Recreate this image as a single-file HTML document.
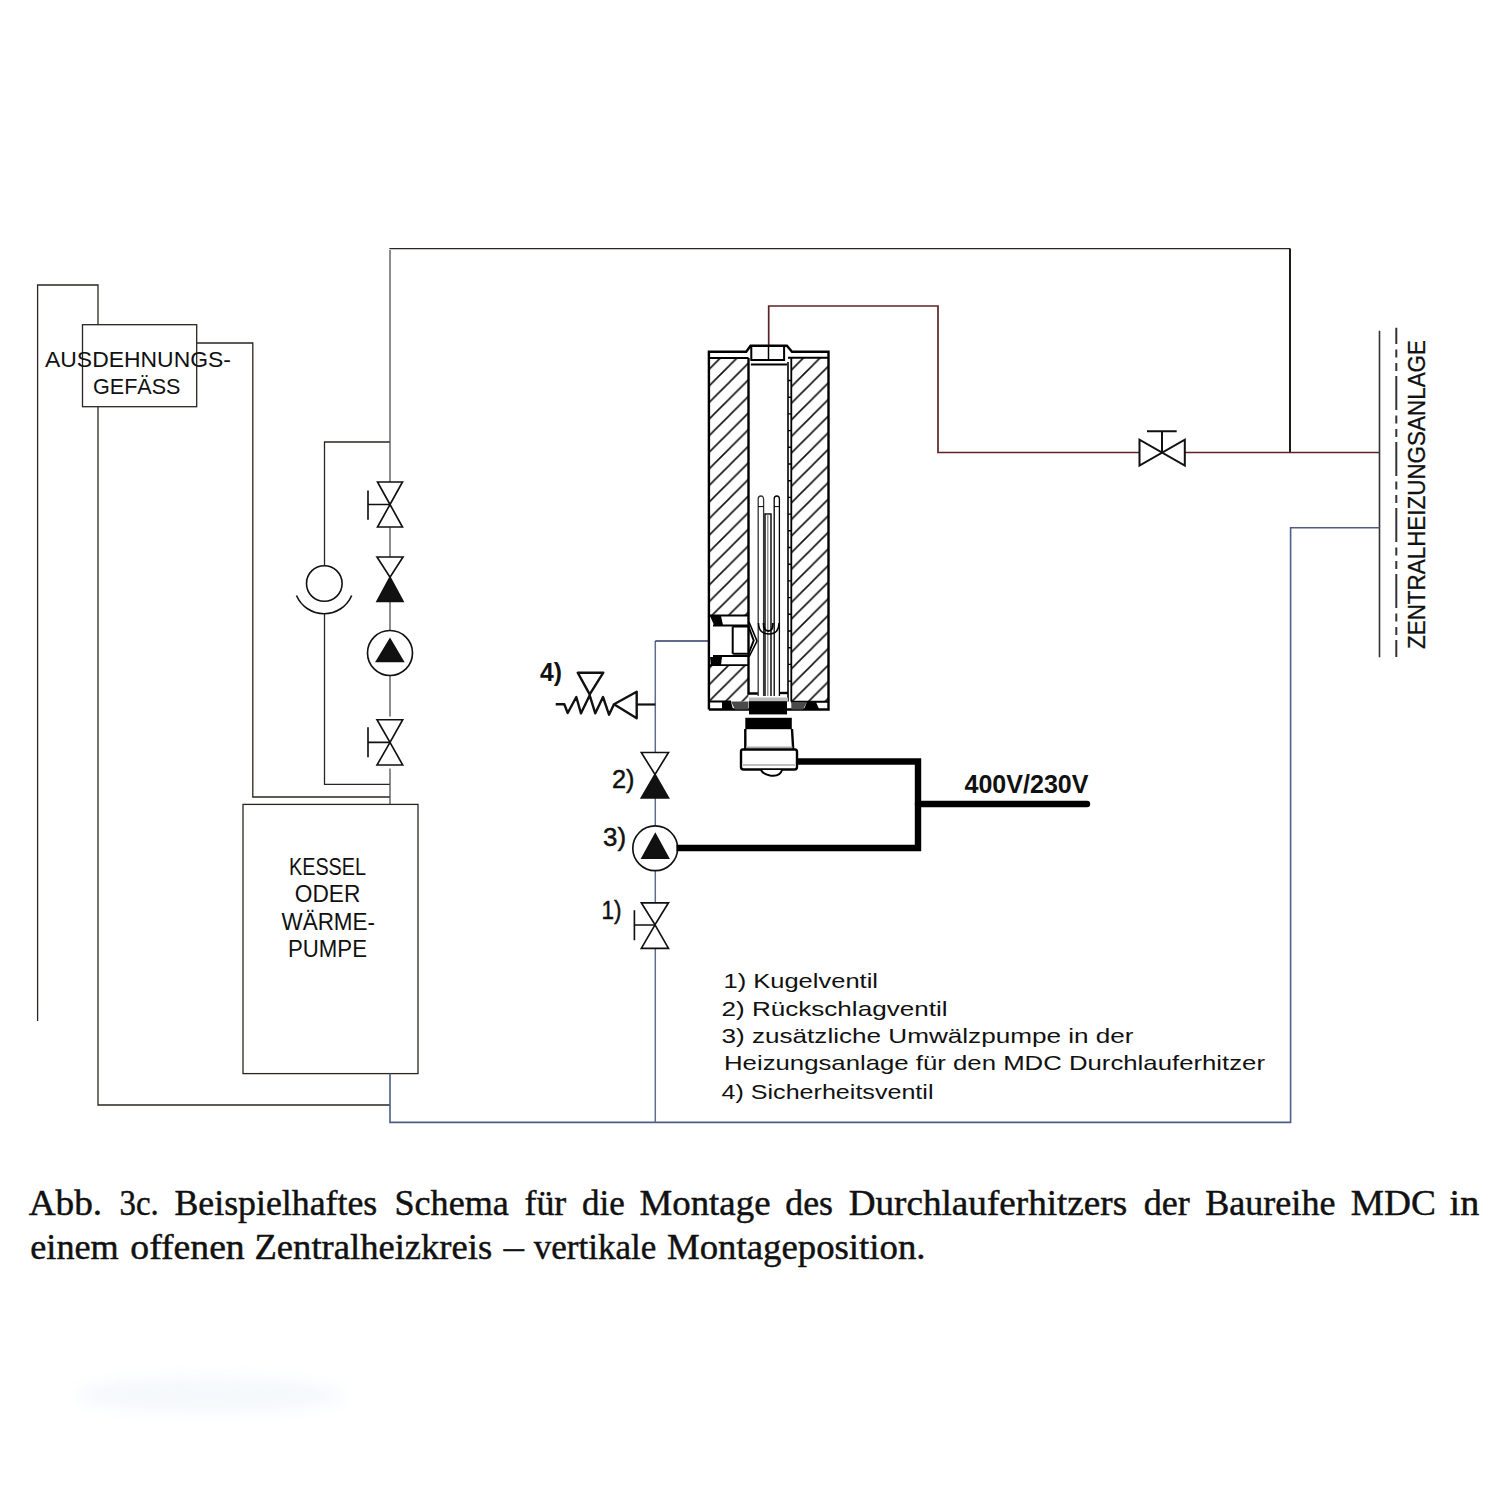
<!DOCTYPE html>
<html>
<head>
<meta charset="utf-8">
<style>
html,body{margin:0;padding:0;background:#fff;}
svg{display:block;}
.s{font-family:"Liberation Sans",sans-serif;}
.r{font-family:"Liberation Serif",serif;}
</style>
</head>
<body>
<svg width="1500" height="1500" viewBox="0 0 1500 1500">
<defs>
<pattern id="hatch" patternUnits="userSpaceOnUse" width="16.6" height="16.6" patternTransform="translate(-0.6,0)">
<path d="M-4,4 L4,-4 M0,16.6 L16.6,0 M12.6,20.6 L20.6,12.6" stroke="#111" stroke-width="1.6" fill="none"/>
</pattern>
<filter id="blur" x="-50%" y="-50%" width="200%" height="200%"><feGaussianBlur stdDeviation="8"/></filter>
</defs>
<rect width="1500" height="1500" fill="#fff"/>
<ellipse cx="210" cy="1395" rx="135" ry="18" fill="#eef4fa" opacity="0.6" filter="url(#blur)"/>

<!-- ===== left expansion system ===== -->
<g fill="none" stroke="#2a2522" stroke-width="1.3">
<path d="M37.6,1021 V285 H98 V324.7"/>
<rect x="82.5" y="324.7" width="114.2" height="82"/>
<path d="M98,406.7 V1105 H390"/>
<path d="M196.7,343 H252.8 V797 H390"/>
<path d="M390,442 H324.5 V565.5"/>
<circle cx="324.3" cy="583.5" r="17.8" stroke="#111" stroke-width="1.6"/>
<path d="M296.5,595.5 A30,30 0 0 0 351.7,595.5" stroke="#111" stroke-width="1.6"/>
<path d="M324.5,614 V784.4 H390"/>
<!-- main vertical -->
<path d="M390,804.4 V768.5 M390,716.5 V675.5 M390,630.5 V601.3 M390,557 V527.2 M390,481.9 V250" stroke="#505050" stroke-width="1.3"/>
<path d="M389.4,248.6 H1290"/>
<path d="M1290,248.6 V452.5" stroke="#1e1a16" stroke-width="2"/>
<rect x="243" y="804.4" width="175" height="269.2"/>
</g>

<!-- valves left column -->
<g fill="none" stroke="#111" stroke-width="1.65" stroke-linejoin="miter">
<!-- gate valve 1 -->
<path d="M377.5,482 H402.5 L390,504.5 Z M377.5,527 H402.5 L390,504.5 Z"/>
<path d="M368,490.5 V519.7 M368,504.5 H390"/>
<!-- check valve -->
<path d="M377,557 H403 L390,577.3 Z"/>
<path d="M377,601.3 H403 L390,577.3 Z" fill="#111"/>
<!-- pump -->
<circle cx="390" cy="653" r="22.5"/>
<path d="M376.5,661.4 H403.2 L390,639.2 Z" fill="#111"/>
<!-- gate valve 3 -->
<path d="M377,719.7 H402.7 L390,742.4 Z M377,765 H402.7 L390,742.4 Z"/>
<path d="M368,727.3 V757.3 M368,742.4 H390"/>
</g>

<!-- ===== red supply ===== -->
<g fill="none" stroke="#5c2428" stroke-width="1.7">
<path d="M768.7,345.7 V306 H938 V452.5 H1139.5"/>
<path d="M1184.8,452.5 H1379.5"/>
</g>
<g fill="none" stroke="#111" stroke-width="2">
<path d="M1139.5,439.7 V465.5 L1184.8,439.7 V465.5 Z"/>
<path d="M1162,452 V431.3 M1147,431.3 H1176.7"/>
</g>

<!-- ===== right heating system marker ===== -->
<g fill="none" stroke="#333" stroke-width="1.6">
<path d="M1379.5,330.7 V657.3"/>
<path d="M1396.3,327.8 V657" stroke-dasharray="34 5.5 8 5.5 8 5" stroke-dashoffset="17.8" stroke-width="2"/>
</g>
<text class="s" transform="translate(1425,649) rotate(-90)" font-size="24.5" fill="#111" stroke="#111" stroke-width="0.3" textLength="309" lengthAdjust="spacingAndGlyphs">ZENTRALHEIZUNGSANLAGE</text>

<!-- ===== blue return ===== -->
<g fill="none" stroke="#4d5d85" stroke-width="1.6">
<path d="M1379.5,527.7 H1290.6 V1122.4 H390 V1073.6"/>
<path d="M655.3,1122.4 V948.3 M655.3,902.8 V870.8 M655.3,825.8 V798 M655.3,752.5 V641" stroke="#5d6c8e" stroke-width="1.5"/>
<path d="M655.3,641 H708.7" stroke="#2c3a6a" stroke-width="1.7"/>
</g>
<path d="M655.3,704.5 H636.7" stroke="#111" stroke-width="2.2" fill="none"/>

<!-- valves right column -->
<g fill="none" stroke="#111" stroke-width="1.65">
<path d="M641.3,752.5 H668.5 L655,774.5 Z"/>
<path d="M641.3,798 H668.5 L655,774.5 Z" fill="#111"/>
<circle cx="655.2" cy="848.3" r="22.4"/>
<path d="M642,858.1 H668.5 L655.3,833.9 Z" fill="#111"/>
<path d="M641.3,902.8 H668.5 L655,924.8 Z M641.3,948.3 H668.5 L655,924.8 Z"/>
<path d="M634.4,910.2 V940.2 M634.4,925 H655"/>
</g>
<!-- safety valve -->
<g fill="none" stroke="#111" stroke-width="2.4" stroke-linejoin="round">
<path d="M636.7,691.7 V718.3 L614,704.3 Z"/>
<path d="M555.7,704.3 H564.3 L567.7,713 L576.3,697 L581,713.3 L589.7,695.3 L595.3,713.3 L603,697 L609,714.7 L614,704.3"/>
<path d="M577.7,672.7 H603.3 L589.7,694.3 Z"/>
</g>

<!-- ===== cable ===== -->
<g fill="none" stroke="#000" stroke-width="6.4">
<path d="M797,761.5 H918 V848 H676.5" stroke-linejoin="miter"/>
<path d="M918,804 H1087" stroke-linecap="round"/>
</g>

<!-- ===== texts ===== -->
<g class="s" fill="#111">
<text x="45" y="366.5" font-size="22" textLength="186" lengthAdjust="spacingAndGlyphs">AUSDEHNUNGS-</text>
<text x="93" y="394" font-size="22" textLength="87.5" lengthAdjust="spacingAndGlyphs">GEFÄSS</text>
<text x="289" y="875" font-size="23" textLength="77" lengthAdjust="spacingAndGlyphs">KESSEL</text>
<text x="294.8" y="902" font-size="23" textLength="65.5" lengthAdjust="spacingAndGlyphs">ODER</text>
<text x="281.5" y="929.5" font-size="23" textLength="93.5" lengthAdjust="spacingAndGlyphs">WÄRME-</text>
<text x="288" y="957" font-size="23" textLength="79" lengthAdjust="spacingAndGlyphs">PUMPE</text>
<text x="964.5" y="793" font-size="25" font-weight="bold" textLength="124" lengthAdjust="spacingAndGlyphs">400V/230V</text>
<text x="540" y="681" font-size="26" font-weight="bold" textLength="22" lengthAdjust="spacingAndGlyphs">4)</text>
<text x="612" y="788" font-size="25" textLength="22.5" lengthAdjust="spacingAndGlyphs" stroke="#111" stroke-width="0.45">2)</text>
<text x="603" y="846" font-size="25" textLength="23" lengthAdjust="spacingAndGlyphs" stroke="#111" stroke-width="0.45">3)</text>
<text x="601.5" y="919" font-size="25" textLength="20" lengthAdjust="spacingAndGlyphs" stroke="#111" stroke-width="0.45">1)</text>
<text x="723.5" y="988" font-size="21" textLength="154.5" lengthAdjust="spacingAndGlyphs">1) Kugelventil</text>
<text x="721.5" y="1016" font-size="21" textLength="226" lengthAdjust="spacingAndGlyphs">2) Rückschlagventil</text>
<text x="721.5" y="1043" font-size="21" textLength="412" lengthAdjust="spacingAndGlyphs">3) zusätzliche Umwälzpumpe in der</text>
<text x="724" y="1070" font-size="21" textLength="541" lengthAdjust="spacingAndGlyphs">Heizungsanlage für den MDC Durchlauferhitzer</text>
<text x="721.5" y="1099" font-size="21" textLength="212" lengthAdjust="spacingAndGlyphs">4) Sicherheitsventil</text>
</g>


<!-- ===== heater ===== -->
<g id="heater">
<rect x="709" y="352" width="119.5" height="357" fill="#fff"/>
<rect x="709" y="358" width="39.5" height="257.5" fill="url(#hatch)"/>
<rect x="709" y="665.5" width="39.5" height="36" fill="url(#hatch)"/>
<rect x="791" y="358" width="37.5" height="343.5" fill="url(#hatch)"/>
<g fill="none" stroke="#000" stroke-width="2.4">
<path d="M708.9,709.5 V351.8 H746.2 L750.6,345.8 H786.9 L792,351.8 H828.5 V709.5 H708.9"/>
<path d="M709,358.1 H748.5 M788,357.8 H828.5" stroke-width="2"/>
<path d="M709,701.5 H731 M791,701.8 H828.5" stroke-width="2"/>
<path d="M748.5,358 V693.5 H758" />
<path d="M779,693 H788"/>
<path d="M751.3,346 V360 H784.1 V346" stroke-width="2"/>
<path d="M750.9,364.5 H787" stroke-width="2.2"/>
<path d="M788,362 V701.5" stroke-width="1.6"/>
<path d="M791.3,358 V701.5" stroke-width="1.8"/>
<path d="M768.5,346 V360" stroke-width="1.5"/>
<!-- inlet -->
<path d="M709,615.5 H748.5 M713,625.5 H748.5 M713,656 H748.5 M709,665.2 H748.5" stroke-width="1.8"/>
<path d="M732.7,626.5 V653.8 M732.7,626.5 H748.5 L753.7,640.5 L748.5,653.8 H732.7" stroke-width="2"/>
<path d="M749,622 L757,641 L749,657" stroke-width="1.6"/>
</g>
<path d="M710,616 H721 L723,625 H714 Z M710,657 H722 L721,665 L711,666 Z" fill="#000"/>
<!-- bore ticks -->
<g stroke="#000" stroke-width="1.4">
<path d="M788,380.5 H791.3 M788,397.2 H791.3 M788,413.9 H791.3 M788,430.6 H791.3 M788,447.3 H791.3 M788,464 H791.3 M788,480.7 H791.3 M788,497.4 H791.3 M788,514.1 H791.3 M788,530.8 H791.3 M788,547.5 H791.3 M788,564.2 H791.3 M788,580.9 H791.3 M788,597.6 H791.3 M788,614.3 H791.3 M788,631 H791.3 M788,647.7 H791.3 M788,664.4 H791.3 M788,681.1 H791.3"/>
</g>
<!-- rods -->
<g fill="none" stroke="#000" stroke-width="1.3">
<path d="M758.2,696 V499 Q758.2,496 761,496 Q763.6,496 763.6,499 V696" stroke="#333"/>
<path d="M774.2,696 V499 Q774.2,496 776.8,496 Q779.4,496 779.4,499 V696"/>
<path d="M758.2,506.6 H763.6 M774.2,506.6 H779.4" stroke-width="1"/>
<path d="M765,696 V514 H771 V696" stroke="#111" stroke-width="1.5"/>
<path d="M767.8,514 V696" stroke="#777" stroke-width="1.2"/>
<path d="M758.5,623 Q758.5,634 769,634 Q779,634 779,623" stroke-width="1.5"/>
<path d="M763.5,623 Q763.5,631 768.5,631 Q773,631 773,623" stroke-width="1.8"/>
</g>
<!-- bottom flange -->
<path d="M731,701.5 H748.5 V709.5 H735 Z" fill="#4a4a4a"/>
<path d="M791.3,702 H807 L803,709.5 H791.3 Z" fill="#4a4a4a"/>
<path d="M722,702 H731 L733,709 H722 Z" fill="#000"/>
<path d="M807,702 H816 L819,709 H804 Z" fill="#000"/>
<rect x="749" y="697.5" width="39" height="4" fill="#bbb"/>
<rect x="749" y="701.2" width="38" height="13.2" fill="#000"/>
<rect x="745.3" y="717.8" width="46.5" height="11.4" fill="#000"/>
<path d="M745.3,729 V749.5 M792,729 L793.2,749.5" fill="none" stroke="#000" stroke-width="2.4"/>
<path d="M746,747.5 H792.5" stroke="#aaa" stroke-width="2"/>
<path d="M742.5,749.5 H795 Q797,749.5 797,752 V767 Q797,769.5 794.5,769.5 H743.5 Q741,769.5 741,767 V752 Q741,749.5 742.5,749.5 Z" fill="#fff" stroke="#000" stroke-width="2.4"/>
<path d="M743,765 H795" stroke="#aaa" stroke-width="1.6"/>
<path d="M761,770 Q763,774 770,775.5 Q780,777 782,770" fill="#fff" stroke="#000" stroke-width="2"/>
</g>


<!-- caption -->
<g class="r" fill="#111" font-size="35" stroke="#111" stroke-width="0.45">
<text x="28.7" y="1215" textLength="73.5" lengthAdjust="spacingAndGlyphs">Abb.</text>
<text x="119.5" y="1215" textLength="39.3" lengthAdjust="spacingAndGlyphs">3c.</text>
<text x="174.5" y="1215" textLength="202.7" lengthAdjust="spacingAndGlyphs">Beispielhaftes</text>
<text x="394.5" y="1215" textLength="114.3" lengthAdjust="spacingAndGlyphs">Schema</text>
<text x="524.5" y="1215" textLength="41.8" lengthAdjust="spacingAndGlyphs">für</text>
<text x="582.0" y="1215" textLength="42.7" lengthAdjust="spacingAndGlyphs">die</text>
<text x="639.5" y="1215" textLength="131.0" lengthAdjust="spacingAndGlyphs">Montage</text>
<text x="785.3" y="1215" textLength="47.7" lengthAdjust="spacingAndGlyphs">des</text>
<text x="848.7" y="1215" textLength="278.5" lengthAdjust="spacingAndGlyphs">Durchlauferhitzers</text>
<text x="1143.7" y="1215" textLength="46.0" lengthAdjust="spacingAndGlyphs">der</text>
<text x="1205.3" y="1215" textLength="130.1" lengthAdjust="spacingAndGlyphs">Baureihe</text>
<text x="1350.8" y="1215" textLength="85.1" lengthAdjust="spacingAndGlyphs">MDC</text>
<text x="1449.6" y="1215" textLength="29.6" lengthAdjust="spacingAndGlyphs">in</text>
<text x="30.3" y="1259" textLength="88.5" lengthAdjust="spacingAndGlyphs">einem</text>
<text x="130.3" y="1259" textLength="114.4" lengthAdjust="spacingAndGlyphs">offenen</text>
<text x="254.5" y="1259" textLength="237.7" lengthAdjust="spacingAndGlyphs">Zentralheizkreis</text>
<text x="503.7" y="1259" textLength="20.1" lengthAdjust="spacingAndGlyphs">–</text>
<text x="533.7" y="1259" textLength="122.6" lengthAdjust="spacingAndGlyphs">vertikale</text>
<text x="667.0" y="1259" textLength="258.5" lengthAdjust="spacingAndGlyphs">Montageposition.</text>
</g>
</svg>
</body>
</html>
